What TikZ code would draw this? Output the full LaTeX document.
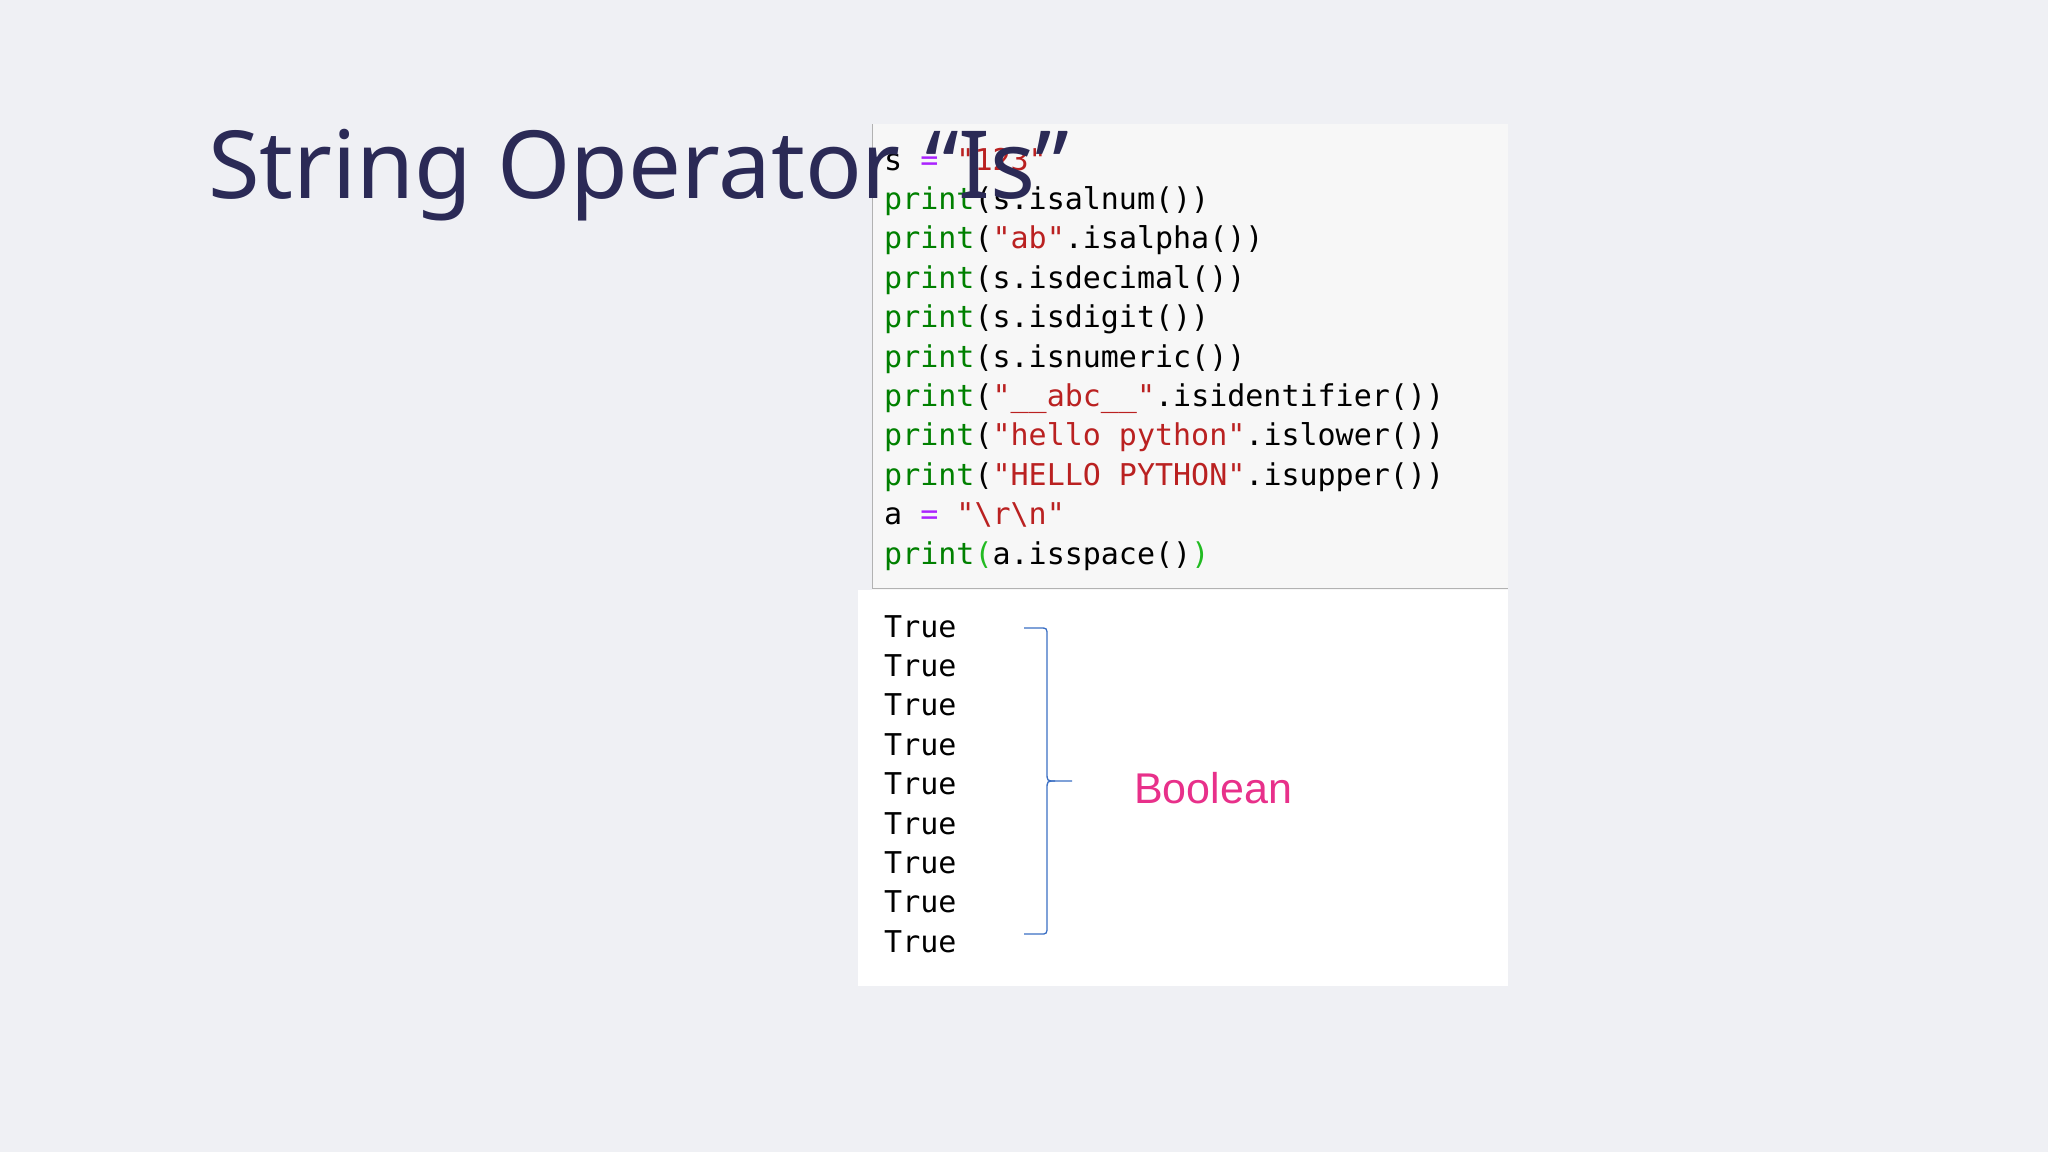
\documentclass[tikz,border=0pt]{standalone}
\usepackage{fontspec}
\setmainfont{Noto Sans}
\setmonofont{DejaVu Sans Mono}
\newfontfamily\arialf{Liberation Sans}
\definecolor{bg}{HTML}{EFF0F4}
\definecolor{codebg}{HTML}{F7F7F7}
\definecolor{navy}{HTML}{2B2A56}
\definecolor{kw}{HTML}{008000}
\definecolor{str}{HTML}{BA2121}
\definecolor{op}{HTML}{AA22FF}
\definecolor{pgreen}{HTML}{22BB22}
\definecolor{brace}{HTML}{3B6FC4}
\definecolor{pink}{HTML}{E8308A}
\newcommand{\K}[1]{\textcolor{kw}{#1}}
\newcommand{\Sq}[1]{\textcolor{str}{#1}}
\newcommand{\Op}[1]{\textcolor{op}{#1}}
\begin{document}
\begin{tikzpicture}[x=1pt,y=-1pt,
  code/.style={anchor=base west,inner sep=0pt,font=\ttfamily\fontsize{30}{30}\selectfont,text=black}]
\useasboundingbox (0,0) rectangle (2048,1152);
\fill[bg] (0,0) rectangle (2048,1152);
\fill[white] (858,590) rectangle (1508,986);
\fill[codebg] (872,124) rectangle (1508,590);
\draw[gray!60,line width=1pt] (872,124) -- (872,588) -- (1508,588);
\foreach \t [count=\i from 0] in {
 {s \Op{=} \Sq{"123"}},
 {\K{print}(s.isalnum())},
 {\K{print}(\Sq{"ab"}.isalpha())},
 {\K{print}(s.isdecimal())},
 {\K{print}(s.isdigit())},
 {\K{print}(s.isnumeric())},
 {\K{print}(\Sq{"\_\_abc\_\_"}.isidentifier())},
 {\K{print}(\Sq{"hello python"}.islower())},
 {\K{print}(\Sq{"HELLO PYTHON"}.isupper())},
 {a \Op{=} \Sq{"\textbackslash r\textbackslash n"}},
 {\K{print}\textcolor{pgreen}{(}a.isspace()\textcolor{pgreen}{)}}}
 \node[code] (c\i) at (884,{170+39.4*\i}) {\t};
\foreach \i in {0,...,8}
 \node[code] (o\i) at (884,{637+39.4*\i}) {True};
\coordinate (bt) at (1024,628);
\coordinate (bb) at (1024,934);
\coordinate (bm) at (1072,781);
\draw[brace,line width=1.3pt] (bt) -- (1040,628) .. controls (1047,628) .. (1047,636) -- (1047,772) .. controls (1047,781) .. (1055,781) -- (bm);
\draw[brace,line width=1.3pt] (bb) -- (1040,934) .. controls (1047,934) .. (1047,926) -- (1047,790) .. controls (1047,781) .. (1055,781);
\node[anchor=west,inner sep=0pt,font=\arialf\fontsize{43}{43}\selectfont,text=pink] (bool) at (1134,788) {Boolean};
\node[anchor=base west,inner sep=0pt,font=\fontsize{94}{94}\selectfont,text=navy] (title) at (208,198) {String Operator “Is”};
\end{tikzpicture}
\end{document}
